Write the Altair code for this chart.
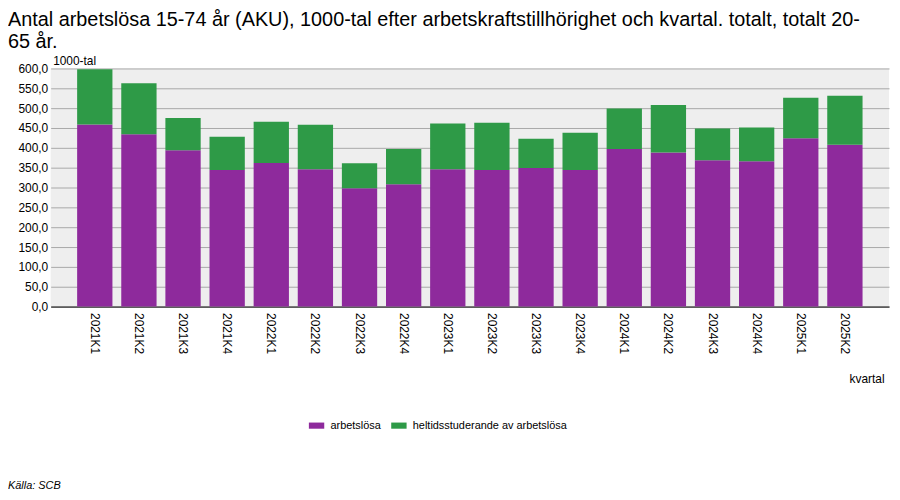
import altair as alt
import pandas as pd

# quarters and the two stacked series (1000-tal)
kvartal = ["2021K1", "2021K2", "2021K3", "2021K4", "2022K1", "2022K2",
           "2022K3", "2022K4", "2023K1", "2023K2", "2023K3", "2023K4",
           "2024K1", "2024K2", "2024K3", "2024K4", "2025K1", "2025K2"]
arbetslosa = [459, 434, 394, 344, 362, 346, 298, 308, 346, 344, 349, 344,
              397, 388, 369, 366, 424, 408]
heltidsstud = [139, 129, 81, 84, 104, 112, 63, 89, 115, 119, 74, 94,
               102, 120, 80, 85, 102, 123]
series = ["arbetslösa", "heltidsstuderande av arbetslösa"]
colors = ["#8E2A9C", "#2E9A47"]
y_ticks = [0, 50, 100, 150, 200, 250, 300, 350, 400, 450, 500, 550, 600]

FONT = "Liberation Sans"

df = pd.concat([
    pd.DataFrame({"kvartal": kvartal, "serie": series[0], "value": arbetslosa, "ord": 0}),
    pd.DataFrame({"kvartal": kvartal, "serie": series[1], "value": heltidsstud, "ord": 1}),
])

bars = (
    alt.Chart(df)
    .mark_bar()
    .encode(
        x=alt.X("kvartal:N", sort=kvartal,
                scale=alt.Scale(paddingInner=0.2, paddingOuter=0.6),
                axis=alt.Axis(title="kvartal", labelAngle=90, labelAlign="left",
                              labelBaseline="middle", labelPadding=6, ticks=False,
                              domainColor="#000000", labelFontSize=12, labelFont=FONT,
                              labelColor="#000000",
                              titleFontSize=12, titleFont=FONT, titleFontWeight="normal",
                              titleColor="#000000",
                              titleX=840, titleY=77, titleAlign="right",
                              titleBaseline="alphabetic", grid=False)),
        y=alt.Y("value:Q", stack="zero",
                scale=alt.Scale(domain=[0, 600], nice=False),
                axis=alt.Axis(title="1000-tal", values=y_ticks, ticks=False, domain=False,
                              labelExpr="replace(format(datum.value, '.1f'), '.', ',')",
                              labelFontSize=12, labelFont=FONT, labelColor="#000000",
                              labelPadding=3,
                              gridColor="#a8a8a8", gridWidth=1,
                              titleAngle=0, titleX=2, titleY=-4, titleAlign="left",
                              titleBaseline="alphabetic", titleFontSize=12, titleFont=FONT,
                              titleFontWeight="normal", titleColor="#000000")),
        color=alt.Color("serie:N", scale=alt.Scale(domain=series, range=colors),
                        legend=alt.Legend(title=None, orient="none", legendX=260,
                                          legendY=352, direction="horizontal",
                                          symbolType="M-1,-0.4L1,-0.4L1,0.4L-1,0.4Z",
                                          symbolSize=240, symbolStrokeWidth=0,
                                          symbolOpacity=1, columnPadding=10,
                                          labelFontSize=11, labelFont=FONT,
                                          labelColor="#000000", labelOffset=6)),
        order=alt.Order("ord:Q"),
    )
)

kalla = (
    alt.Chart(pd.DataFrame({"t": ["Källa: SCB"]}))
    .mark_text(align="left", baseline="alphabetic", font=FONT, fontSize=11,
               fontStyle="italic", color="#000000")
    .encode(text="t:N", x=alt.value(-43), y=alt.value(424))
)

chart = (
    alt.layer(bars, kalla)
    .properties(
        width=845, height=240,
        padding={"left": 0, "top": 0, "right": 3, "bottom": 5},
        title=alt.TitleParams(
            ["Antal arbetslösa 15-74 år (AKU), 1000-tal efter arbetskraftstillhörighet och kvartal. totalt, totalt 20-",
             "65 år."],
            anchor="start", font=FONT, fontSize=20, fontWeight="normal",
            color="#000000", lineHeight=22, offset=3),
    )
    .configure_view(fill="#EEEEEE", stroke=None)
)

chart.save("out.html", embed_options={"renderer": "svg", "actions": False})
